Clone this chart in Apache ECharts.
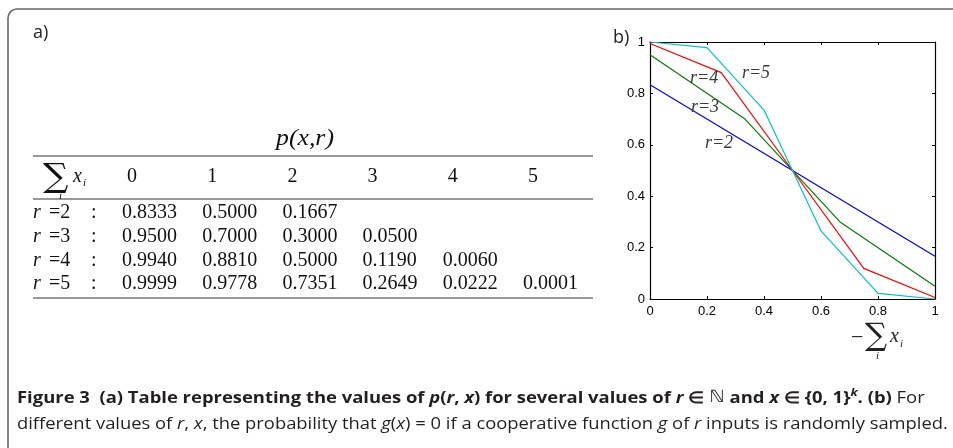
<!DOCTYPE html>
<html><head><meta charset="utf-8">
<script src="https://cdn.jsdelivr.net/npm/echarts@6/dist/echarts.min.js"></script>
<style>html,body{margin:0;padding:0;background:#fff}#c{width:953px;height:448px}</style>
</head><body><div id="c"></div>
<script>
// ---- data ----
const sumCols = ['0', '1', '2', '3', '4', '5'];
const rValues = ['2', '3', '4', '5'];
const p_r2 = [0.8333, 0.5000, 0.1667];
const p_r3 = [0.9500, 0.7000, 0.3000, 0.0500];
const p_r4 = [0.9940, 0.8810, 0.5000, 0.1190, 0.0060];
const p_r5 = [0.9999, 0.9778, 0.7351, 0.2649, 0.0222, 0.0001];
const xTickLabels = ['0', '0.2', '0.4', '0.6', '0.8', '1'];
const yTickLabels = ['0', '0.2', '0.4', '0.6', '0.8', '1'];
const seriesNames = ['r=2', 'r=3', 'r=4', 'r=5'];

// ---- layout / style ----
const tableRows = [p_r2, p_r3, p_r4, p_r5];
const colors = ['#0000ff', '#008000', '#ff0000', '#00c4c4'];
const labelAnchors = [[0.242, 0.607], [0.193, 0.746], [0.19, 0.86], [0.372, 0.879]];
const SERIF = 'Liberation Serif';
const CAP = 'Open Sans';
const ink = '#111';

function txt(x, y, text, o) {
  o = o || {};
  const el = {
    type: 'text', x: x, y: y, silent: true,
    style: Object.assign({
      text: text, fill: ink, fontFamily: SERIF, fontSize: 20,
      textAlign: o.align || 'left', align: o.align || 'left',
      textVerticalAlign: 'middle', verticalAlign: 'middle'
    }, o.style || {})
  };
  if (o.scaleX) el.scaleX = o.scaleX;
  return el;
}

const g = [];
// outer frame (rounded top-left corner)
g.push({ type: 'rect', silent: true, shape: { x: 8, y: 9, width: 1200, height: 800, r: 9 },
  style: { fill: 'none', stroke: '#666', lineWidth: 1.6 } });
// panel labels
g.push(txt(33, 33, 'a)', { style: { fontFamily: CAP, fontSize: 18, fill: '#222' } }));
g.push(txt(613, 38, 'b)', { style: { fontFamily: CAP, fontSize: 18, fill: '#222' } }));

// table
const tX0 = 33, tX1 = 593;
g.push(txt(305, 139, 'p(x,r)', { align: 'center', style: { fontStyle: 'italic', fontSize: 23 }, scaleX: 1.12 }));
[156, 199, 298].forEach(function (yy) {
  g.push({ type: 'line', silent: true, shape: { x1: tX0, y1: yy, x2: tX1, y2: yy },
    style: { stroke: '#333', lineWidth: 1 } });
});
// header
g.push(txt(43, 178, '\u2211', { style: { fontFamily: 'DejaVu Serif', fontSize: 33 }, scaleX: 1.08 }));
g.push(txt(73, 177, 'x', { style: { fontStyle: 'italic', fontSize: 20 } }));
g.push(txt(83, 183, 'i', { style: { fontStyle: 'italic', fontSize: 11 } }));
g.push(txt(59, 196, 'i', { style: { fontStyle: 'italic', fontSize: 11 } }));
const colX0 = 122, colStep = 80.2;
sumCols.forEach(function (c, j) {
  g.push(txt(colX0 + 10 + colStep * j, 177, c, { align: 'center' }));
});
const rowY0 = 213, rowStep = 23.7;
rValues.forEach(function (r, i) {
  const yy = rowY0 + rowStep * i;
  g.push(txt(33, yy, 'r', { style: { fontStyle: 'italic' } }));
  g.push(txt(49, yy, '=' + r, {}));
  g.push(txt(91, yy, ':', {}));
  tableRows[i].forEach(function (v, j) {
    g.push(txt(colX0 + colStep * j, yy, v.toFixed(4), {}));
  });
});

// x-axis title of panel b
g.push(txt(851, 338, '\u2212', { style: { fontFamily: SERIF, fontSize: 22, fill: '#222' } }));
g.push(txt(865, 337, '\u2211', { style: { fontFamily: 'DejaVu Serif', fontSize: 31, fill: '#222' } }));
g.push(txt(890, 337, 'x', { style: { fontStyle: 'italic', fontSize: 20, fill: '#222' } }));
g.push(txt(900, 344, 'i', { style: { fontStyle: 'italic', fontSize: 11, fill: '#222' } }));
g.push(txt(876, 356, 'i', { style: { fontStyle: 'italic', fontSize: 11, fill: '#222' } }));

// caption
function rs(size, weight, style, family) {
  return { fontSize: size, fontWeight: weight, fontStyle: style, fontFamily: family || CAP, fill: '#231f20', lineHeight: 22 };
}
const capSize = 16;
const richCap = {
  b: rs(capSize, 'bold', 'normal'),
  bi: rs(capSize, 'bold', 'italic'),
  n: rs(capSize, 'normal', 'normal'),
  it: rs(capSize, 'normal', 'italic'),
  nn: rs(capSize + 1, 'normal', 'normal', 'DejaVu Sans'),
  sup: Object.assign(rs(11, 'bold', 'italic'), { verticalAlign: 'top', lineHeight: 22 })
};
g.push({ type: 'text', x: 17, y: 398, scaleX: 1.152, silent: true, style: {
  text: '{b|Figure 3  (a) Table representing the values of }{bi|p}{b|(}{bi|r}{b|, }{bi|x}{b|) for several values of }{bi|r}{b| \u2208 }{nn|\u2115}{b| and }{bi|x}{b| \u2208 }{0, 1}{sup|k}{b|. (b)}{n| For}',
  fontFamily: CAP, fontSize: capSize, fontWeight: 'bold', fill: '#231f20', lineHeight: 22,
  rich: richCap, textVerticalAlign: 'middle', verticalAlign: 'middle' } });
g.push({ type: 'text', x: 17, y: 424, scaleX: 1.148, silent: true, style: {
  text: '{n|different values of }{it|r}{n|, }{it|x}{n|, the probability that }{it|g}{n|(}{it|x}{n|) = 0 if a cooperative function }{it|g}{n| of }{it|r}{n| inputs is randomly sampled.}',
  fontFamily: CAP, fontSize: capSize, fill: '#231f20', lineHeight: 22,
  rich: richCap, textVerticalAlign: 'middle', verticalAlign: 'middle' } });

// ---- chart ----
const allP = [p_r2, p_r3, p_r4, p_r5];
const series = allP.map(function (arr, k) {
  const n = arr.length - 1;
  return {
    name: seriesNames[k], type: 'line', showSymbol: false, symbol: 'none',
    data: arr.map(function (v, j) { return [j / n, v]; }),
    lineStyle: { color: colors[k], width: 1.2 }, itemStyle: { color: colors[k] },
    markPoint: {
      symbol: 'circle', symbolSize: 0, silent: true,
      label: { show: true, position: 'inside', formatter: seriesNames[k], color: '#3a3a3a',
        fontFamily: SERIF, fontStyle: 'italic', fontSize: 18 },
      data: [{ coord: labelAnchors[k] }]
    }
  };
});
const axBase = {
  type: 'value', min: 0, max: 1, interval: 0.2,
  axisLine: { show: true, onZero: false, lineStyle: { color: '#000', width: 1.2 } },
  axisTick: { show: true, inside: true, length: 3, lineStyle: { color: '#000', width: 1 } },
  splitLine: { show: false }
};
const lab = { color: '#000', fontFamily: 'Liberation Sans', fontSize: 13 };
const option = {
  animation: false,
  backgroundColor: '#fff',
  grid: { left: 650, top: 42, width: 285, height: 257, show: false, containLabel: false },
  xAxis: [
    Object.assign({}, axBase, { position: 'bottom',
      axisLabel: Object.assign({ margin: 6, formatter: function (v) { return xTickLabels[Math.round(v * 5)]; } }, lab) }),
    Object.assign({}, axBase, { position: 'top', axisLabel: { show: false } })
  ],
  yAxis: [
    Object.assign({}, axBase, { position: 'left',
      axisLabel: Object.assign({ margin: 5, formatter: function (v) { return yTickLabels[Math.round(v * 5)]; } }, lab) }),
    Object.assign({}, axBase, { position: 'right', axisLabel: { show: false } })
  ],
  series: series,
  graphic: { elements: g }
};
const chart = echarts.init(document.getElementById('c'), null, { renderer: 'canvas' });
chart.setOption(option);
</script></body></html>
